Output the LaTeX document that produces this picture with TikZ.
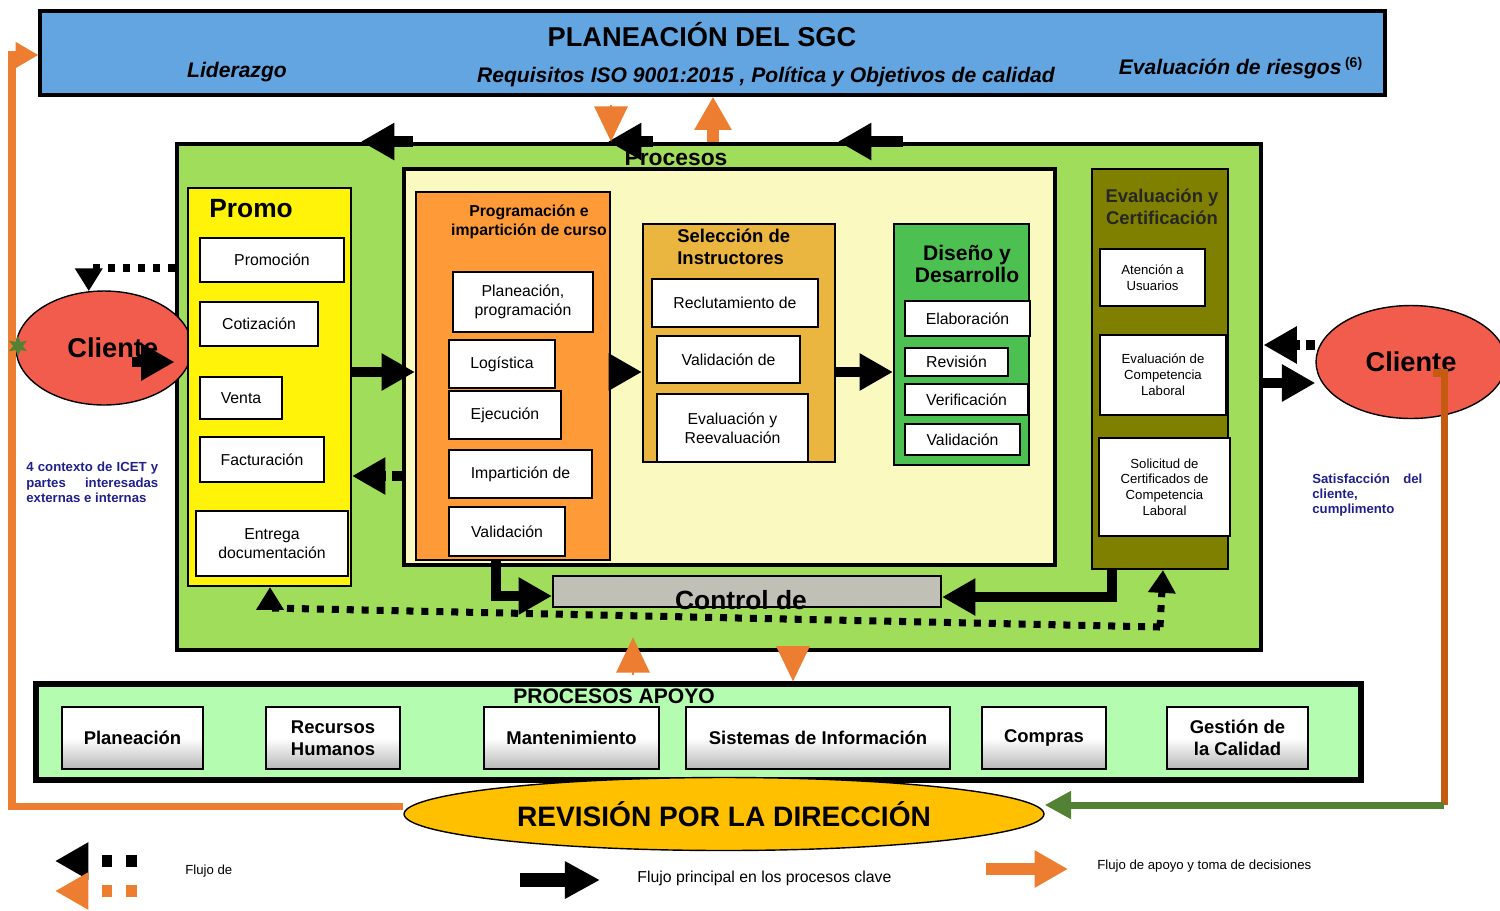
\documentclass[tikz,border=0pt]{standalone}
\usepackage{fontspec}
\setmainfont{Liberation Sans}
\usetikzlibrary{arrows.meta, fit, shapes.geometric}
\definecolor{sgcblue}{RGB}{98,165,224}
\definecolor{procgreen}{RGB}{160,221,90}
\definecolor{cream}{RGB}{250,250,192}
\definecolor{promoyellow}{RGB}{255,243,10}
\definecolor{progorange}{RGB}{254,154,56}
\definecolor{selgold}{RGB}{234,182,64}
\definecolor{disgreen}{RGB}{76,192,80}
\definecolor{evalolive}{RGB}{128,128,0}
\definecolor{ctrlgray}{RGB}{192,192,182}
\definecolor{apoyogreen}{RGB}{180,252,176}
\definecolor{clientred}{RGB}{242,92,76}
\definecolor{orarr}{RGB}{237,125,49}
\definecolor{brownline}{RGB}{197,90,17}
\definecolor{leafgreen}{RGB}{84,130,53}
\definecolor{revgold}{RGB}{255,192,0}
\definecolor{inkblue}{RGB}{32,32,140}
\tikzset{>=latex,
  frame/.style={draw=black, line width=1.2pt, inner sep=0pt},
  wbox/.style={frame, fill=white, align=center, font=\fontsize{9}{10.8}\selectfont},
  smallbox/.style={wbox, font=\fontsize{7.5}{9}\selectfont},
  btn/.style={frame, line width=1.6pt, top color=white, bottom color=black!28, middle color=white, align=center, minimum height=1.24cm, font=\bfseries\fontsize{10.5}{12.5}\selectfont},
  ttl/.style={inner sep=0pt, align=center, font=\bfseries\fontsize{10.5}{12.5}\selectfont},
  client/.style={ellipse, draw=black, line width=0.8pt, fill=clientred, inner sep=0pt, font=\bfseries\fontsize{15.5}{18}\selectfont},
  blk/.style={line width=6pt, -{Triangle[length=19pt, width=20pt]}},
  dotblk/.style={blk, dash pattern=on 5.5pt off 3.5pt},
  dotflow/.style={line width=4pt, dash pattern=on 4pt off 4.5pt, -{Triangle[length=13pt, width=15pt]}},
  ortri/.style={draw=orarr, line width=1pt, -{Triangle[length=20pt, width=19pt]}},
  orflow/.style={draw=orarr, line width=6.5pt, -{Triangle[length=19pt, width=20pt]}},
  note/.style={inner sep=0pt, text=inkblue, align=justify, font=\bfseries\fontsize{7.5}{8.8}\selectfont},
  legend/.style={inner sep=0pt, anchor=west, font=\fontsize{7.5}{9}\selectfont},
}

\begin{document}
\begin{tikzpicture}[x=0.02cm, y=-0.02cm]
\useasboundingbox (0,0) rectangle (1500,910);
% planeacion
\node[frame, line width=1.8pt, fill=sgcblue, fit={(40,11)(1385,95)}] (banner) {};
\node[font=\bfseries\fontsize{15.5}{18}\selectfont] (sgc) at (702,35) {PLANEACIÓN DEL SGC};
\node[font=\bfseries\itshape\fontsize{12}{14}\selectfont] (lider) at (237,72) {Liderazgo};
\node[font=\bfseries\itshape\fontsize{12}{14}\selectfont] (req) at (766,77) {Requisitos ISO 9001:2015 , Política y Objetivos de calidad};
\node[font=\bfseries\itshape\fontsize{12}{14}\selectfont] (riesgo) at (1241,68) {Evaluación de riesgos\,\textsuperscript{\upshape(6)}};

% procesos clave
\node[frame, line width=2.8pt, fill=procgreen, fit={(177,144)(1261,650)}] (procesos) {};
\node[font=\bfseries\fontsize{13}{15}\selectfont] (proclbl) at (676,158) {Procesos};
\node[frame, line width=2.8pt, fill=cream, fit={(404,169)(1055,565)}] (clave) {};
\node[client, minimum width=3.52cm, minimum height=2.28cm] (lcliente) at (104,348) {\hspace*{10pt}Cliente};

\node[frame, fill=promoyellow, fit={(188,188)(351,586)}] (promo) {};
\node[ttl, anchor=west, font=\bfseries\fontsize{15}{18}\selectfont] (promottl) at (209,209) {Promo};
\node[wbox, minimum width=2.88cm, minimum height=0.88cm] (promocion) at (272,260) {Promoción};
\node[wbox, minimum width=2.36cm, minimum height=0.88cm] (cotizacion) at (259,324) {Cotización};
\node[wbox, minimum width=1.64cm, minimum height=0.84cm] (venta) at (241,398) {Venta};
\node[wbox, minimum width=2.48cm, minimum height=0.9cm] (facturacion) at (262,459.5) {Facturación};
\node[wbox, minimum width=3.04cm, minimum height=1.3cm] (entrega) at (272,543.5) {Entrega\\documentación};

\node[frame, fill=progorange, fit={(416,192)(610,560)}] (prog) {};
\node[ttl, font=\bfseries\fontsize{9}{10.8}\selectfont] (progttl) at (529,222) {Programación e\\impartición de curso};
\node[wbox, minimum width=2.8cm, minimum height=1.2cm] (planprog) at (523,302) {Planeación,\\programación};
\node[wbox, minimum width=2.12cm, minimum height=0.96cm] (logistica) at (502,364) {Logística};
\node[wbox, minimum width=2.24cm, minimum height=0.96cm] (ejecucion) at (505,415) {Ejecución};
\node[wbox, minimum width=2.86cm, minimum height=0.96cm] (imparticion) at (520.5,474) {Impartición de};
\node[wbox, minimum width=2.32cm, minimum height=0.98cm] (validacion) at (507,531.5) {Validación};

\node[frame, fill=selgold, fit={(643,224)(835,462)}] (seleccion) {};
\node[ttl, anchor=west, align=left] (selttl) at (677,247) {Selección de\\Instructores};
\node[wbox, minimum width=3.32cm, minimum height=0.96cm] (reclutamiento) at (735,303) {Reclutamiento de};
\node[wbox, minimum width=2.86cm, minimum height=0.94cm] (valcomp) at (728.5,359.5) {Validación de};
\node[wbox, minimum width=3.02cm, minimum height=1.36cm] (evalrev) at (732.5,428) {Evaluación y\\Reevaluación};

\node[frame, fill=disgreen, fit={(894,224)(1029,465)}] (diseno) {};
\node[ttl, font=\bfseries\fontsize{12}{13}\selectfont] (disttl) at (967,264) {Diseño y\\Desarrollo};
\node[wbox, minimum width=2.5cm, minimum height=0.7cm] (elaboracion) at (967.5,318.5) {Elaboración};
\node[wbox, minimum width=2.06cm, minimum height=0.56cm] (revisiondis) at (956.5,362) {Revisión};
\node[wbox, minimum width=2.46cm, minimum height=0.62cm] (verificacion) at (966.5,399.5) {Verificación};
\node[wbox, minimum width=2.3cm, minimum height=0.62cm] (validdis) at (962.5,439.5) {Validación};

\node[frame, fill=evalolive, fit={(1092,169)(1228,569)}] (evalcert) {};
\node[ttl, text=black!85] (evalttl) at (1162,207) {Evaluación y\\Certificación};
\node[smallbox, minimum width=2.1cm, minimum height=1.14cm] (atencion) at (1152.5,277.5) {Atención a\\Usuarios};
\node[smallbox, minimum width=2.52cm, minimum height=1.6cm] (evcomp) at (1163,375) {Evaluación de\\Competencia\\Laboral};
\node[smallbox, minimum width=2.62cm, minimum height=1.96cm] (solicitud) at (1164.5,487) {Solicitud de\\Certificados de\\Competencia\\Laboral};

\node[frame, fill=ctrlgray, fit={(553,576)(941,607)}] (control) {};
\node[font=\bfseries\fontsize{15}{18}\selectfont] (controllbl) at (741,600) {Control de};

\node[client, minimum width=3.8cm, minimum height=2.26cm] (rcliente) at (1411,362) {Cliente};

% procesos apoyo
\node[frame, line width=3pt, fill=apoyogreen, fit={(36,684)(1361,780)}] (apoyo) {};
\node[font=\bfseries\fontsize{12}{14}\selectfont] (apoyolbl) at (614,696) {PROCESOS APOYO};
\node[btn, minimum width=2.82cm] (planeacion) at (132.5,738) {Planeación};
\node[btn, minimum width=2.68cm] (rrhh) at (333,738) {Recursos\\Humanos};
\node[btn, minimum width=3.5cm] (mantenimiento) at (571.5,738) {Mantenimiento};
\node[btn, minimum width=5.28cm] (sistemas) at (818,738) {Sistemas de Información};
\node[btn, minimum width=2.48cm] (compras) at (1044,738) {Compras};
\node[btn, minimum width=2.82cm] (calidad) at (1237.5,738) {Gestión de\\la Calidad};
\node[ellipse, draw=black, line width=0.8pt, fill=revgold, minimum width=12.8cm, minimum height=1.46cm, inner sep=0pt, font=\bfseries\fontsize{16}{18}\selectfont] (revdir) at (724,814) {REVISIÓN POR LA DIRECCIÓN};

% textos laterales
\node[note, text width=2.64cm, anchor=north west] (contexto) at (26,462) {4 contexto de ICET y\linebreak partes interesadas\linebreak externas e internas};
\node[note, text width=2.2cm, anchor=north west] (satisf) at (1312,473) {Satisfacción del\linebreak cliente,\\cumplimento};

% lazo de revision
\draw[draw=orarr, line width=4pt, -{Triangle[length=13pt, width=14pt]}] ([yshift=0.16cm]revdir.west) -| (12,55) -- (banner.west |- 0,55);
\node[star, star points=6, star point ratio=2.2, fill=leafgreen, minimum size=0.42cm, inner sep=0pt] (marca) at (18,346) {};
\coordinate (satispt) at (1433,373);
\coordinate (esquina) at (1444,805);
\draw[draw=brownline, line width=4pt] (satispt) -- (1444,373) -- (esquina);
\draw[draw=leafgreen, line width=4pt, -{Triangle[length=15pt, width=15pt]}] (esquina) -- (revdir.east |- esquina);

% flujo principal
\draw[blk] (132,362) -- (procesos.west |- 0,362);
\draw[blk] (promo.east |- 0,372) -- (prog.west |- 0,372);
\draw[blk] (prog.east |- 0,372) -- (seleccion.west |- 0,372);
\draw[blk] (seleccion.east |- 0,372) -- (diseno.west |- 0,372);
\draw[blk] (procesos.east |- 0,383) -- (rcliente.west |- 0,383);
\draw[blk] (prog.south -| 496,0) |- (control.west |- 0,596);
\draw[blk] (evalcert.south -| 1112,0) |- (control.east |- 0,597);
\foreach \xa/\xb in {413/361, 653/608, 903/838}
  \draw[blk] (procesos.north -| \xa,0) -- (procesos.north -| \xb,0);

% retroalimentacion
\draw[dotblk] (clave.west |- 0,476) -- (promo.east |- 0,476);
\draw[dotblk] (rcliente.west |- 0,345) -- (procesos.east |- 0,345);
\draw[dotflow] (procesos.west |- 0,268) -| (lcliente.105);
\coordinate (ctrlpt) at (1160,627);
\draw[dotflow] (ctrlpt) -- (270,608) -- (promo.south -| 270,0);
\draw[dotflow] (ctrlpt) -- (evalcert.south -| 1163,0);

% apoyo y decisiones
\draw[ortri] (banner.south -| 611,0) ++(0,8) -- (procesos.north -| 611,0);
\draw[orflow] (procesos.north -| 713,0) -- (banner.south -| 713,0);
\draw[ortri] (apoyo.north -| 633,0) ++(0,-6) -- ++(0,-38);
\draw[ortri] (procesos.south -| 793,0) -- (apoyo.north -| 793,0);

% leyenda
\draw[blk, line width=6.5pt, dash pattern=on 6pt off 8pt] (137,861) -- (55,861);
\draw[blk, draw=orarr, line width=6.5pt, dash pattern=on 6pt off 8pt] (137,891) -- (55,891);
\node[legend] (legdot) at (185,871) {Flujo de};
\draw[blk, line width=7.5pt, -{Triangle[length=20pt, width=20pt]}] (520,880) -- (600,880);
\node[legend, font=\fontsize{9}{11}\selectfont] (legmain) at (637,878) {Flujo principal en los procesos clave};
\draw[orflow, line width=7pt] (986,869) -- (1068,869);
\node[legend] (legapoyo) at (1097,866) {Flujo de apoyo y toma de decisiones};
\end{tikzpicture}
\end{document}
